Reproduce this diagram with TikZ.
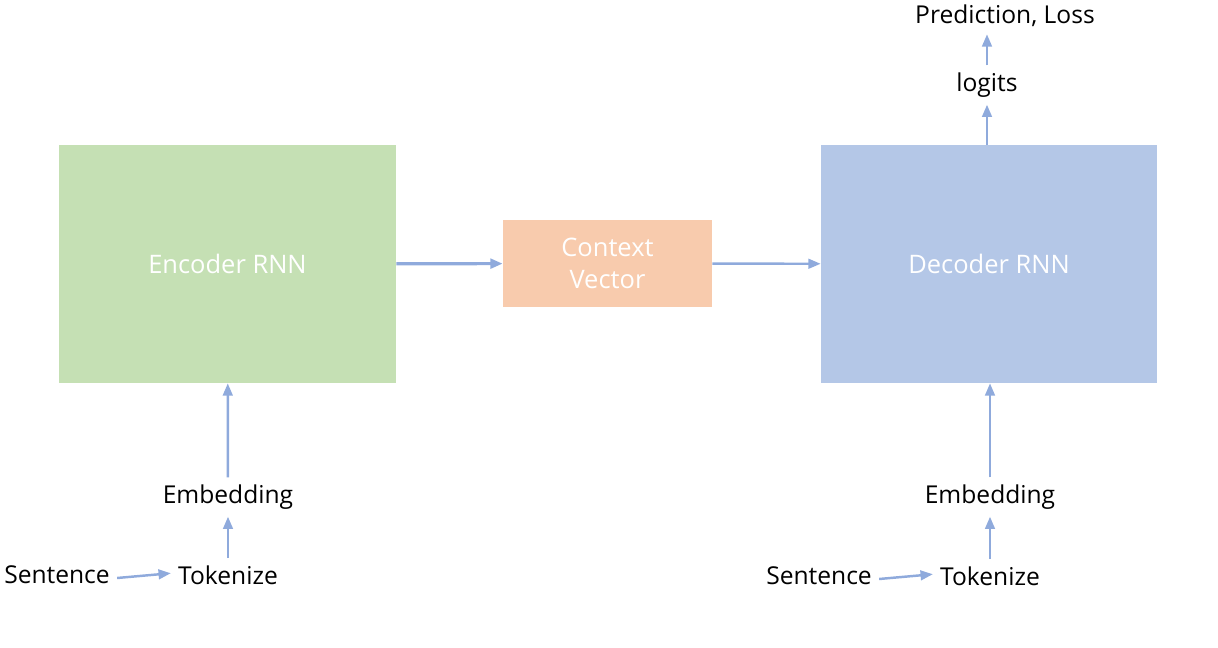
\documentclass[tikz,border=0pt]{standalone}
\usepackage{fontspec}
\setmainfont{Open Sans}
\usepackage{xcolor}
\usetikzlibrary{arrows.meta,positioning}

\definecolor{encgreen}{HTML}{C5E0B4}
\definecolor{ctxorange}{HTML}{F8CBAD}
\definecolor{decblue}{HTML}{B4C7E7}
\definecolor{arrowblue}{HTML}{8FAADC}

\tikzset{
  block/.style={fill=#1, draw=none, text=white, align=center, inner sep=0pt, font=\fontsize{14.5}{18}\selectfont},
  lbl/.style={text=black, inner sep=4pt},
  flow/.style={-{Triangle[length=7pt,width=5.5pt]}, draw=arrowblue, line width=1.4pt},
}

\begin{document}
\begin{tikzpicture}[x=0.02cm, y=-0.02cm, font=\fontsize{14}{17}\selectfont]
\useasboundingbox (0,0) rectangle (1218,648);

% Blocks
\node[block=encgreen, minimum width=6.74cm, minimum height=4.76cm] (enc) at (227.5,264) {Encoder RNN};
\node[block=ctxorange, minimum width=4.18cm, minimum height=1.74cm] (ctx) at (607.5,263.5) {Context\\Vector};
\node[block=decblue, minimum width=6.72cm, minimum height=4.76cm] (dec) at (989,264) {Decoder RNN};

% Encoder side
\node[lbl] (sentL) at (57,575) {Sentence};
\node[lbl] (tokL) at (228,575) {Tokenize};
\node[lbl] (embL) at (228,497) {Embedding};

% Decoder side
\node[lbl] (sentR) at (819,576) {Sentence};
\node[lbl] (tokR) at (990,576) {Tokenize};
\node[lbl] (embR) at (990,497) {Embedding};

% Outputs
\node[lbl] (logits) at (987,85) {logits};
\node[lbl] (pred) at (1005,16) {Prediction, Loss};

% Arrows
\draw[flow] (sentL.east) ++(0,3) -- ([yshift=1pt]tokL.west);
\draw[flow] (tokL) -- (embL);
\draw[flow] (embL) -- (enc);
\draw[flow, line width=1.8pt] (enc) -- (ctx);
\draw[flow] (ctx) -- (dec);
\draw[flow] (sentR.east) ++(0,3) -- ([yshift=1pt]tokR.west);
\draw[flow] (tokR) -- (embR);
\draw[flow] (embR) -- (dec.south -| embR.north);
\draw[flow] (dec.north -| logits.south) -- (logits);
\draw[flow] (logits) -- (pred.south -| logits.north);
\end{tikzpicture}
\end{document}
